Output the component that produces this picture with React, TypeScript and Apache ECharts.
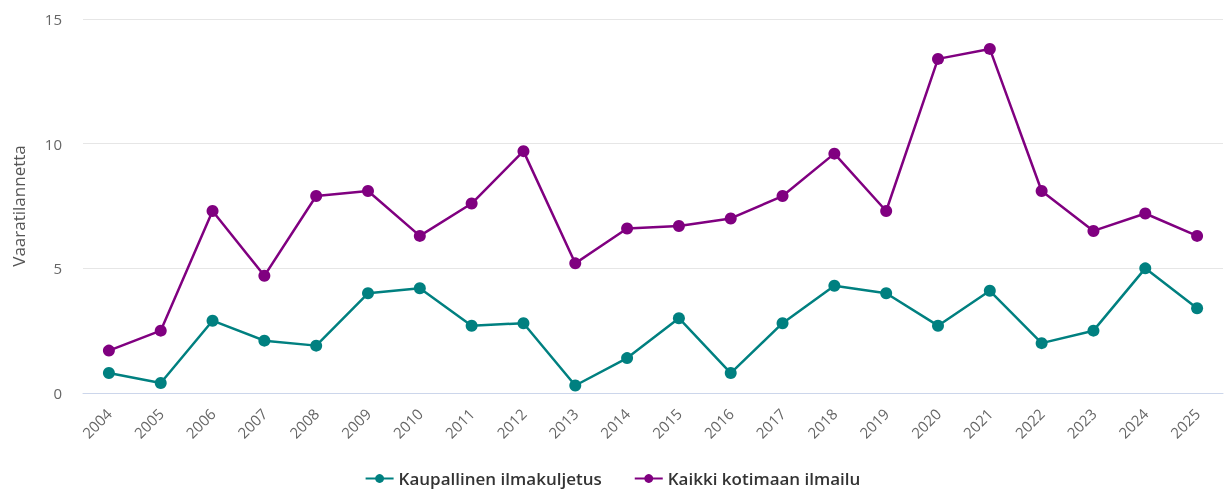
import React, { useEffect, useRef } from "react";
import * as echarts from "echarts";

const years = ["2004","2005","2006","2007","2008","2009","2010","2011","2012","2013","2014","2015","2016","2017","2018","2019","2020","2021","2022","2023","2024","2025"];
const kaupallinen = [0.8,0.4,2.9,2.1,1.9,4.0,4.2,2.7,2.8,0.3,1.4,3.0,0.8,2.8,4.3,4.0,2.7,4.1,2.0,2.5,5.0,3.4];
const kaikki = [1.7,2.5,7.3,4.7,7.9,8.1,6.3,7.6,9.7,5.2,6.6,6.7,7.0,7.9,9.6,7.3,13.4,13.8,8.1,6.5,7.2,6.3];
const seriesNames = ["Kaupallinen ilmakuljetus", "Kaikki kotimaan ilmailu"];
const yAxisName = "Vaaratilannetta";

export default function App() {
  const ref = useRef<HTMLDivElement>(null);
  useEffect(() => {
    if (!ref.current) return;
    const chart = echarts.init(ref.current, null, { renderer: "svg" });
    const font = "'Open Sans', 'Noto Sans', sans-serif";
    chart.setOption({
      animation: false,
      textStyle: { fontFamily: font },
      grid: { left: 83, right: 2, top: 19, bottom: 103, containLabel: false },
      legend: {
        bottom: 4,
        left: "center",
        itemGap: 32,
        itemWidth: 28,
        itemHeight: 11,
        textStyle: { fontFamily: font, fontSize: 17, fontWeight: 600, color: "#333333" },
        data: seriesNames,
      },
      xAxis: {
        type: "category",
        data: years,
        boundaryGap: true,
        axisLine: { show: true, lineStyle: { color: "#ccd6eb", width: 1 } },
        axisTick: { show: false },
        axisLabel: { rotate: 45, fontSize: 15, color: "#666666", margin: 18, fontFamily: font, interval: 0 },
        splitLine: { show: false },
      },
      yAxis: {
        type: "value",
        min: 0,
        max: 15,
        interval: 5,
        name: yAxisName,
        nameLocation: "middle",
        nameGap: 56,
        nameTextStyle: { fontSize: 17, color: "#555555", fontFamily: font },
        axisLine: { show: false },
        axisTick: { show: false },
        axisLabel: { fontSize: 15, color: "#666666", margin: 21, fontFamily: font },
        splitLine: { lineStyle: { color: "#e6e6e6", width: 1 } },
      },
      series: [
        {
          name: seriesNames[0],
          type: "line",
          data: kaupallinen,
          symbol: "circle",
          symbolSize: 12,
          lineStyle: { width: 2.5, color: "#008080" },
          itemStyle: { color: "#008080" },
        },
        {
          name: seriesNames[1],
          type: "line",
          data: kaikki,
          symbol: "circle",
          symbolSize: 12,
          lineStyle: { width: 2.5, color: "#800080" },
          itemStyle: { color: "#800080" },
        },
      ],
    });
    return () => chart.dispose();
  }, []);
  return <div ref={ref} style={{ position: "fixed", left: 0, top: 0, width: 1225, height: 496 }} />;
}
